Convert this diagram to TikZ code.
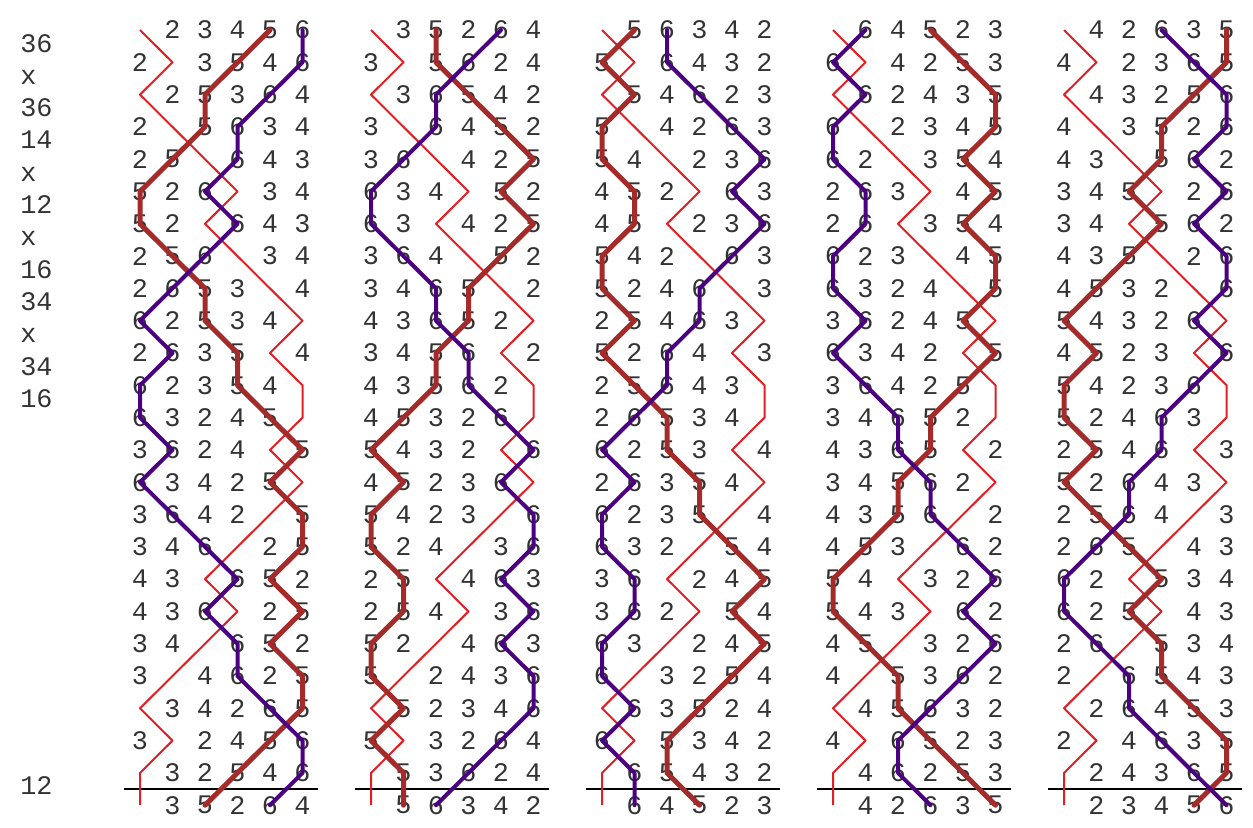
\documentclass[tikz,border=0pt]{standalone}
\usepackage{fontspec}
\setmonofont{Liberation Mono}

\definecolor{bellred}{RGB}{225,30,35}
\definecolor{bellbrown}{RGB}{165,42,42}
\definecolor{bellpurple}{RGB}{75,0,130}
\definecolor{numgray}{RGB}{51,51,51}

\tikzset{
  bellnum/.style={font=\ttfamily\fontsize{13.4}{15}\selectfont, text=numgray, inner sep=0pt},
  pnlabel/.style={font=\ttfamily\fontsize{13.4}{15}\selectfont, text=numgray, inner sep=0pt, anchor=base west},
  treble/.style={draw=bellred, line width=1pt, line join=round},
  bellfive/.style={draw=bellbrown, line width=2.5pt, line join=round, line cap=round},
  bellsix/.style={draw=bellpurple, line width=2pt, line join=round, line cap=round},
  leadend/.style={draw=black, line width=1.3pt}
}

\begin{document}
\begin{tikzpicture}[x=0.5pt,y=-0.5pt]
      \useasboundingbox (0,0) rectangle (1253,827);
      % Place notation
      \foreach \pn [count=\i from 0] in {36,x,36,14,x,12,x,16,34,x,34,16}
        \node[pnlabel] (pn\i) at (20,{52+32.3*\i}) {\pn};
      \node[pnlabel] (pnle) at (20,{52+32.3*23}) {12};
      % Leads: rows of the first lead, mapped through each lead head
      \foreach \lh [count=\c] in {{{1,2,3,4,5,6}},{{1,3,5,2,6,4}},{{1,5,6,3,4,2}},{{1,6,4,5,2,3}},{{1,4,2,6,3,5}}} {
        \foreach \rw [count=\r] in {{1,2,3,4,5,6},{2,1,3,5,4,6},{1,2,5,3,6,4},{2,1,5,6,3,4},
            {2,5,1,6,4,3},{5,2,6,1,3,4},{5,2,1,6,4,3},{2,5,6,1,3,4},{2,6,5,3,1,4},
            {6,2,5,3,4,1},{2,6,3,5,1,4},{6,2,3,5,4,1},{6,3,2,4,5,1},{3,6,2,4,1,5},
            {6,3,4,2,5,1},{3,6,4,2,1,5},{3,4,6,1,2,5},{4,3,1,6,5,2},{4,3,6,1,2,5},
            {3,4,1,6,5,2},{3,1,4,6,2,5},{1,3,4,2,6,5},{3,1,2,4,5,6},{1,3,2,5,4,6},
            {1,3,5,2,6,4}} {
          \foreach \b [count=\p] in \rw {
            \pgfmathtruncatemacro\bell{\lh[\b-1]}
            \coordinate (c\c-r\r-b\bell) at ({140+231*(\c-1)+32.5*(\p-1)},{30+32.3*(\r-1)});
            \ifnum\bell>1 \node[bellnum] (n\c-\r-\p) at (c\c-r\r-b\bell) {\bell}; \fi
          }
        }
        % Lead end
        \coordinate (le\c-w) at ({124+231*(\c-1)},789);
        \coordinate (le\c-e) at ({318+231*(\c-1)},789);
        \draw[leadend] (le\c-w) -- (le\c-e);
        % Treble, fifth and tenor
        \draw[treble] (c\c-r1-b1) \foreach \r in {2,...,25} {-- (c\c-r\r-b1)};
        \draw[bellfive] (c\c-r1-b5) \foreach \r in {2,...,25} {-- (c\c-r\r-b5)};
        \draw[bellsix] (c\c-r1-b6) \foreach \r in {2,...,25} {-- (c\c-r\r-b6)};
      }
    \end{tikzpicture}
\end{document}
